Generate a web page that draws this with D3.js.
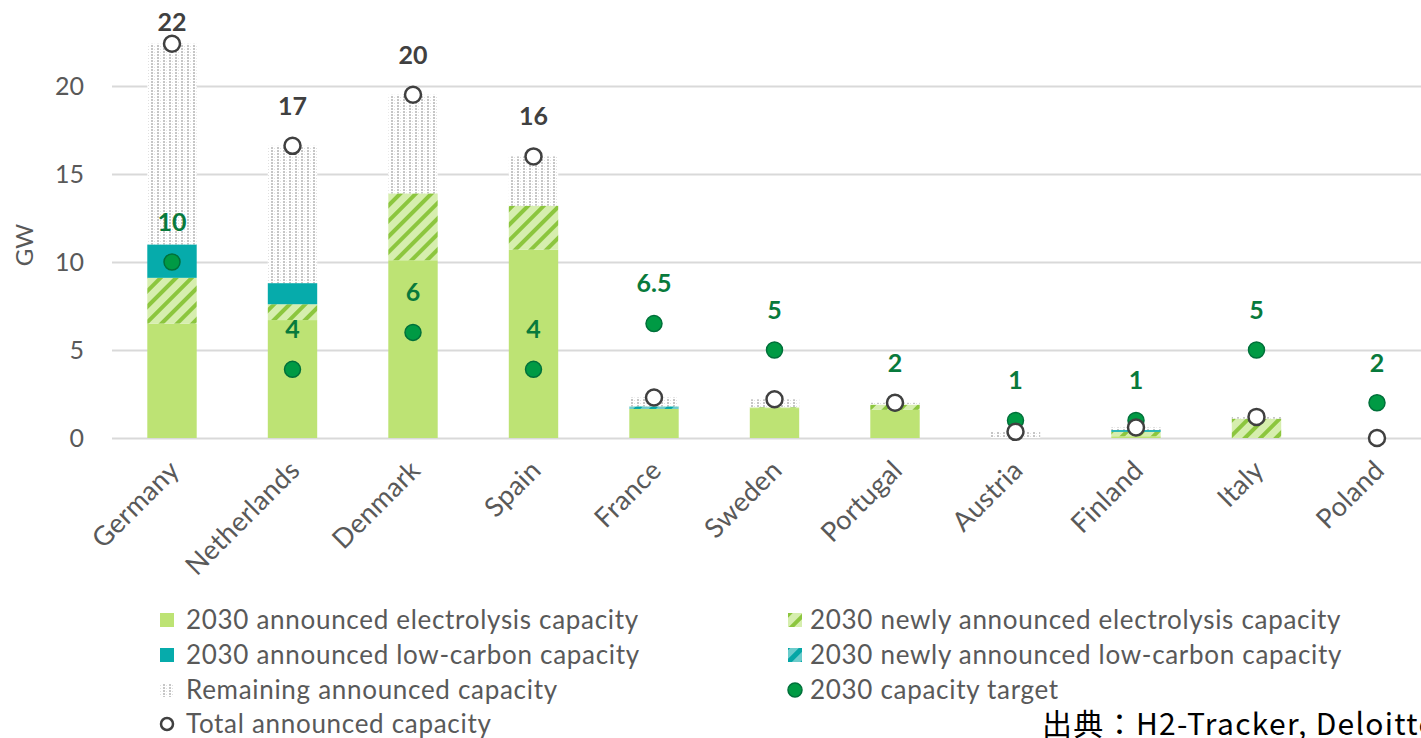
<!DOCTYPE html>
<html><head><meta charset="utf-8">
<script src="https://cdn.jsdelivr.net/npm/d3@7"></script>
<style>
html,body{margin:0;padding:0;background:#fff;overflow:hidden}
svg{display:block}
</style></head>
<body>
<svg id="chart" width="1421" height="738"></svg>
<script>
// ---- data ----
const categories = ["Germany","Netherlands","Denmark","Spain","France","Sweden","Portugal","Austria","Finland","Italy","Poland"];
const electrolysis    = [6.5, 6.7, 10.1, 10.7, 1.65, 1.7, 1.6, 0,    0.1,  0,   0];
const newElectrolysis = [2.6, 0.9, 3.8,  2.5,  0,    0.05,0.3, 0,    0.25, 1.1, 0];
const lowCarbon       = [1.9, 1.2, 0,    0,    0,    0,   0,   0,    0.1,  0,   0];
const newLowCarbon    = [0,   0,   0,    0,    0.15, 0,   0,   0,    0,    0,   0];
const remaining       = [11.4,7.8, 5.6,  2.8,  0.5,  0.45,0.1, 0.35, 0.15, 0.1, 0];
const total           = [22.4,16.6,19.5, 16.0, 2.3,  2.2, 2.0, 0.35, 0.6,  1.2, 0];
const totalLabels     = ["22","17","20","16","","","","","","",""];
const target          = [10, 3.9, 6, 3.9, 6.5, 5, 2, 1, 1, 5, 2];
const targetLabels    = ["10","4","6","4","6.5","5","2","1","1","5","2"];
const yTicks = [0,5,10,15,20];
const seriesNames = ["2030 announced electrolysis capacity","2030 newly announced electrolysis capacity",
  "2030 announced low-carbon capacity","2030 newly announced low-carbon capacity",
  "Remaining announced capacity","2030 capacity target","Total announced capacity"];
const sourceText = "出典：H2-Tracker, Deloitte";

// ---- setup ----
const svg = d3.select("#chart");
const font = "Lato, 'Open Sans', sans-serif";
const grey = "#595959";
const defs = svg.append("defs");

// hatch green
const pg = defs.append("pattern").attr("id","hatchGreen").attr("patternUnits","userSpaceOnUse")
  .attr("width",11).attr("height",11).attr("patternTransform","rotate(45)");
pg.append("rect").attr("width",11).attr("height",11).attr("fill","#d6eeae");
pg.append("rect").attr("width",4).attr("height",11).attr("fill","#8cc63e");
// hatch teal
const pt = defs.append("pattern").attr("id","hatchTeal").attr("patternUnits","userSpaceOnUse")
  .attr("width",11).attr("height",11).attr("patternTransform","rotate(45)");
pt.append("rect").attr("width",11).attr("height",11).attr("fill","#6ccccc");
pt.append("rect").attr("width",5).attr("height",11).attr("fill","#05a6a6");
// dotted remaining
const pd = defs.append("pattern").attr("id","dots").attr("patternUnits","userSpaceOnUse")
  .attr("width",6).attr("height",3);
pd.append("rect").attr("width",6).attr("height",3).attr("fill","#ffffff");
pd.append("rect").attr("x",1).attr("y",0).attr("width",2).attr("height",2).attr("fill","#c6c6c6");
pd.append("rect").attr("x",4).attr("y",1).attr("width",1).attr("height",1).attr("fill","#e0e0e0");

const x = d3.scaleBand().domain(categories).range([111.75, 1437.25]).paddingInner(0.59).paddingOuter(0.295);
const y = d3.scaleLinear().domain([0, 25]).range([438, -2]);

// gridlines
const yAxis = d3.axisLeft(y).tickValues(yTicks).tickSize(-(1437-112)).tickPadding(28).tickFormat(d3.format("d"));
const gA = svg.append("g").attr("transform","translate(112,0)").call(yAxis);
gA.select(".domain").remove();
gA.selectAll(".tick line").attr("stroke","#d9d9d9").attr("stroke-width",2);
gA.selectAll(".tick text").attr("fill",grey).attr("font-family",font).attr("font-size",25);

// GW title
svg.append("text").attr("transform","translate(33,245) rotate(-90)")
  .attr("text-anchor","middle").attr("font-family",font).attr("font-size",24).attr("fill",grey).text("GW");

// stacked bars
const layers = [
  {vals: electrolysis, fill: "#bde374"},
  {vals: newElectrolysis, fill: "url(#hatchGreen)"},
  {vals: lowCarbon, fill: "#06abab"},
  {vals: newLowCarbon, fill: "url(#hatchTeal)"},
  {vals: remaining, fill: "url(#dots)"}
];
const rows = categories.map((c,i)=>({c, i}));
const cum = categories.map(()=>0);
const gBars = svg.append("g");
layers.forEach(L => {
  const data = rows.map(r => { const b = cum[r.i]; cum[r.i] += L.vals[r.i]; return {c:r.c, y0:b, y1:b+L.vals[r.i]}; })
    .filter(d => d.y1 > d.y0);
  gBars.selectAll(null).data(data).enter().append("rect")
    .attr("x", d=>x(d.c)).attr("width", x.bandwidth())
    .attr("y", d=>y(d.y1)).attr("height", d=>y(d.y0)-y(d.y1))
    .attr("fill", L.fill);
});

// target dots
svg.append("g").selectAll("circle").data(rows).enter().append("circle")
  .attr("cx", d=>x(d.c)+x.bandwidth()/2).attr("cy", d=>y(target[d.i])).attr("r",8)
  .attr("fill","#009a44").attr("stroke","#00703a").attr("stroke-width",1.5);

// total circles
svg.append("g").selectAll("circle").data(rows).enter().append("circle")
  .attr("cx", d=>x(d.c)+x.bandwidth()/2).attr("cy", d=>y(total[d.i])).attr("r",8)
  .attr("fill","#ffffff").attr("stroke","#404040").attr("stroke-width",2.5);

// target labels
svg.append("g").selectAll("text").data(rows).enter().append("text")
  .attr("x", d=>x(d.c)+x.bandwidth()/2).attr("y", d=>y(target[d.i])-40).attr("dy","0.35em")
  .attr("text-anchor","middle").attr("font-family",font).attr("font-weight","bold").attr("font-size",25)
  .attr("fill","#087a3c").text(d=>targetLabels[d.i]);

// total labels
svg.append("g").selectAll("text").data(rows.filter(d=>totalLabels[d.i])).enter().append("text")
  .attr("x", d=>x(d.c)+x.bandwidth()/2).attr("y", d=>Math.max(y(total[d.i])-40, 22)).attr("dy","0.35em")
  .attr("text-anchor","middle").attr("font-family",font).attr("font-weight","bold").attr("font-size",25)
  .attr("fill","#404040").text(d=>totalLabels[d.i]);

// category labels
svg.append("g").selectAll("text").data(categories).enter().append("text")
  .attr("transform", d=>`translate(${x(d)+x.bandwidth()/2+9},${472}) rotate(-45)`)
  .attr("text-anchor","end").attr("font-family",font).attr("font-size",27).attr("letter-spacing",0.3)
  .attr("fill",grey).text(d=>d);

// legend
const legendItems = [
  {col:0,row:0,name:seriesNames[0],type:"rect",fill:"#bde374"},
  {col:1,row:0,name:seriesNames[1],type:"rect",fill:"url(#hatchGreen)"},
  {col:0,row:1,name:seriesNames[2],type:"rect",fill:"#06abab"},
  {col:1,row:1,name:seriesNames[3],type:"rect",fill:"url(#hatchTeal)"},
  {col:0,row:2,name:seriesNames[4],type:"rect",fill:"url(#dots)"},
  {col:1,row:2,name:seriesNames[5],type:"dot"},
  {col:0,row:3,name:seriesNames[6],type:"ring"}
];
const colX = [160, 788], rowY = [620, 655, 690, 724];
const gL = svg.append("g");
legendItems.forEach(it => {
  const sx = colX[it.col], sy = rowY[it.row];
  if (it.type==="rect") {
    gL.append("rect").attr("x",sx).attr("y",sy-7).attr("width",14).attr("height",14).attr("fill",it.fill);
  } else if (it.type==="dot") {
    gL.append("circle").attr("cx",sx+7).attr("cy",sy).attr("r",7).attr("fill","#009a44").attr("stroke","#00703a").attr("stroke-width",1.5);
  } else {
    gL.append("circle").attr("cx",sx+7).attr("cy",sy).attr("r",6).attr("fill","#fff").attr("stroke","#404040").attr("stroke-width",2.5);
  }
  gL.append("text").attr("x", sx + (it.col===0?26:22)).attr("y", sy).attr("dy","0.35em")
    .attr("font-family",font).attr("font-size",26).attr("letter-spacing",0.7).attr("fill",grey).text(it.name);
});

// source
svg.append("text").attr("x",1042).attr("y",735).attr("font-family","'Noto Sans CJK JP', sans-serif")
  .attr("font-size",30).attr("letter-spacing",1.3).attr("fill","#000").text(sourceText);
</script>
</body></html>
